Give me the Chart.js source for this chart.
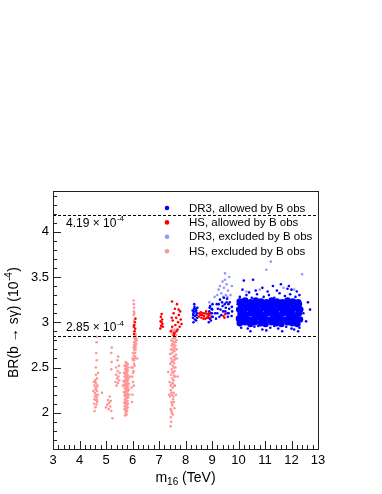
<!DOCTYPE html>
<html><head><meta charset="utf-8">
<script src="https://cdn.jsdelivr.net/npm/chart.js@4/dist/chart.umd.min.js"></script>
<style>html,body{margin:0;padding:0;background:#fff}canvas{display:block}</style>
</head><body>
<canvas id="c" width="382" height="494"></canvas>
<script>
const xTicks = [3,4,5,6,7,8,9,10,11,12,13];
const yTicks = [2,2.5,3,3.5,4];
const refLines = [4.19, 2.85];
const refLabels = ['4.19', '2.85'];
const legendLabels = ['DR3, allowed by B obs','HS, allowed by B obs','DR3, excluded by B obs','HS, excluded by B obs'];

const dr3Allowed = [
[8.28,3.05],[8.3,3.1],[8.32,3.15],[8.35,3.03],[8.38,3.12],[8.42,3.08],[8.45,3.16],[8.3,3.0],[8.4,3.02],[8.27,3.13],[8.33,3.2],[8.44,3.05],
[8.29,3.08],[8.31,3.12],[8.36,3.07],[8.39,3.15],[8.43,3.1],[8.34,3.17],[8.41,3.13],
[8.86,3.05],[8.9,3.12],[8.93,3.18],[8.96,3.02],[9.0,3.1],[9.02,3.2],[8.88,3.0],[8.98,3.15],[9.03,3.06],
[8.88,3.08],[8.92,3.04],[8.95,3.1],[8.99,3.06],[9.01,3.14],[8.91,3.16],
[9.12,3.1],[9.18,3.2],[9.22,3.15],[9.3,3.25],[9.35,3.08],[9.4,3.18],[9.45,3.27],[9.5,3.12],[9.55,3.22],[9.6,3.06],[9.65,3.15],[9.28,3.06],[9.38,3.22],[9.15,3.04],[9.58,3.1],[9.62,3.2],
[9.2,3.1],[9.25,3.2],[9.32,3.14],[9.42,3.12],[9.48,3.2],[9.52,3.16],[9.57,3.26],[9.63,3.1],[9.67,3.22],
[9.74,3.07],[9.76,3.12],[9.75,3.17],
[10.05,3.28],[10.3,3.3],[10.5,3.27],[10.7,3.31],[10.95,3.28],[11.15,3.3],[11.35,3.27],[11.55,3.32],[11.75,3.29],[11.95,3.31],[12.15,3.28],[12.3,3.3],[10.4,3.33],[11.45,3.35],[12.0,3.36],
[10.15,3.36],[10.65,3.35],[10.9,3.38],[11.3,3.4],[11.85,3.37],[12.2,3.34],[11.1,3.34],
[10.1,2.94],[10.35,2.93],[10.6,2.95],[10.9,2.92],[11.2,2.94],[11.5,2.93],[11.8,2.95],[12.1,2.92],[12.3,2.94],[10.75,2.96],[11.35,2.96],
[10.45,2.9],[11.05,2.91],[11.65,2.9],[12.0,2.93],[12.25,2.9],
[10.2,3.46],[10.55,3.47],[11.6,3.42],[11.9,3.4],[12.62,3.22],[12.7,3.14],[12.55,3.01],[12.45,3.1],[9.95,3.05],[9.97,3.2]
];
const dr3AllowedCore = [
[10.05,2.99],[10.25,3.0],[10.45,2.98],[10.62,3.0],[10.85,2.99],[11.02,2.98],[11.25,3.0],[11.43,2.99],[11.62,2.98],[11.85,3.0],[12.03,2.99],[12.22,2.98],
[10.02,3.04],[10.2,3.05],[10.4,3.03],[10.6,3.04],[10.8,3.05],[11.0,3.04],[11.2,3.03],[11.4,3.05],[11.6,3.04],[11.8,3.03],[12.0,3.05],[12.2,3.04],[12.32,3.03],
[10.08,3.09],[10.28,3.08],[10.48,3.1],[10.68,3.09],[10.88,3.08],[11.08,3.1],[11.28,3.09],[11.48,3.08],[11.68,3.1],[11.88,3.09],[12.08,3.08],[12.28,3.1],
[10.03,3.14],[10.22,3.13],[10.42,3.15],[10.62,3.14],[10.82,3.13],[11.02,3.15],[11.22,3.14],[11.42,3.13],[11.62,3.15],[11.82,3.14],[12.02,3.13],[12.22,3.15],[12.33,3.14],
[10.1,3.19],[10.3,3.18],[10.5,3.2],[10.7,3.19],[10.9,3.18],[11.1,3.2],[11.3,3.19],[11.5,3.18],[11.7,3.2],[11.9,3.19],[12.1,3.18],[12.28,3.2],
[10.05,3.23],[10.25,3.24],[10.45,3.22],[10.65,3.24],[10.85,3.23],[11.05,3.22],[11.25,3.24],[11.45,3.23],[11.65,3.22],[11.85,3.24],[12.05,3.23],[12.25,3.22]
];
const hsAllowed = [
[6.06,2.87],[6.08,2.9],[6.1,2.93],[6.07,2.97],[6.09,3.0],[6.11,3.04],[6.05,2.95],
[7.05,2.93],[7.08,2.96],[7.1,3.0],[7.12,3.03],[7.07,3.06],[7.13,2.98],[7.1,3.09],[7.06,3.01],[7.14,2.95],
[7.45,2.9],[7.5,2.95],[7.52,3.02],[7.55,3.1],[7.58,2.88],[7.6,3.15],[7.62,2.97],[7.65,3.05],[7.68,3.2],[7.7,2.92],[7.72,3.0],[7.75,3.08],[7.78,2.95],[7.8,3.12],[7.82,3.03],[7.85,2.98],[7.48,3.05],[7.56,2.86],[7.66,2.9],[7.74,3.14],[7.49,3.23],
[8.5,3.06],[8.55,3.08],[8.6,3.05],[8.65,3.1],[8.7,3.07],[8.75,3.04],[8.8,3.09],[8.85,3.06],[8.9,3.08],[8.95,3.05],[8.58,3.11],[8.68,3.04],[8.78,3.12],[8.88,3.1],[8.62,3.08],[8.72,3.1],[8.82,3.05],[8.52,3.1],
[9.43,3.07],[9.47,3.05],[9.5,3.09]
];
const dr3Excluded = [
[9.2,3.3],[9.25,3.36],[9.3,3.4],[9.35,3.32],[9.4,3.45],[9.45,3.38],[9.49,3.54],[9.49,3.47],[9.52,3.3],[9.55,3.42],[9.6,3.35],[9.65,3.5],[9.7,3.3],[9.75,3.4],[9.42,3.28],[9.58,3.28],
[11.22,3.67],[11.05,3.58],[12.4,3.53],[10.8,3.36],[11.7,3.38],[12.1,3.36],[8.9,3.22],[9.1,3.28],[10.3,3.34]
];
const hsExcluded = [
[4.52,2.24],[4.55,2.1],[4.56,2.3],[4.57,2.02],[4.58,2.18],[4.59,2.36],[4.6,2.06],[4.6,2.26],[4.61,2.14],[4.62,2.2],[4.62,2.42],[4.63,2.32],[4.64,2.09],[4.64,2.28],[4.65,2.17],[4.66,2.38],[4.66,2.24],[4.67,2.12],[4.68,2.3],[4.69,2.2],[4.62,2.5],[4.65,2.58],[4.63,2.66],[4.64,2.78],[4.64,2.84],[4.7,2.44],[4.54,2.34],[4.85,2.22],
[4.58,2.22],[4.62,2.28],[4.6,2.34],[4.66,2.14],[4.57,2.15],
[5.0,2.06],[5.05,2.09],[5.08,2.14],[5.1,2.04],[5.12,2.11],[5.14,2.18],[5.16,2.07],[5.18,2.13],[5.2,2.02],[5.24,1.94],[5.2,2.48],[5.21,2.56],[5.2,2.66],[5.22,2.72],
[5.36,2.34],[5.38,2.42],[5.4,2.3],[5.42,2.38],[5.44,2.46],[5.45,2.33],[5.47,2.4],[5.49,2.52],[5.5,2.36],[5.52,2.44],[5.43,2.58],[5.46,2.62],[5.38,2.5],
[5.72,1.97],[5.78,1.98],[5.74,2.01],[5.8,2.02],[5.7,2.04],[5.76,2.05],[5.82,2.06],[5.73,2.08],[5.79,2.09],[5.69,2.11],[5.75,2.12],[5.81,2.13],[5.72,2.15],[5.78,2.16],[5.84,2.17],[5.7,2.19],[5.76,2.2],[5.82,2.21],[5.68,2.23],[5.74,2.24],[5.8,2.25],[5.86,2.26],[5.71,2.27],[5.77,2.28],[5.83,2.29],[5.69,2.31],[5.75,2.32],[5.81,2.33],[5.66,2.35],[5.72,2.36],[5.78,2.37],[5.84,2.38],[5.7,2.4],[5.76,2.41],[5.82,2.42],[5.68,2.44],[5.74,2.45],[5.8,2.46],[5.72,2.48],[5.78,2.49],[5.84,2.5],[5.7,2.52],[5.76,2.53],[5.82,2.54],[5.74,2.56],[5.88,2.2],[5.64,2.3],[5.9,2.4],
[5.75,1.99],[5.71,2.07],[5.77,2.1],[5.83,2.1],[5.73,2.18],[5.79,2.19],[5.71,2.22],[5.77,2.23],[5.83,2.24],[5.73,2.3],[5.79,2.31],[5.85,2.32],[5.7,2.34],[5.76,2.35],[5.82,2.36],[5.74,2.39],[5.8,2.4],[5.72,2.43],[5.78,2.44],[5.76,2.47],[5.82,2.47],[5.74,2.51],[5.8,2.52],[5.78,2.55],[5.77,2.03],[5.73,2.13],[5.79,2.26],
[5.98,2.12],[6.0,2.2],[5.97,2.28],[6.02,2.34],[5.99,2.4],[6.04,2.46],[6.01,2.5],[6.06,2.54],[6.03,2.58],[6.08,2.6],[6.05,2.63],[6.1,2.66],[6.07,2.69],[6.12,2.7],[6.04,2.72],[6.09,2.74],[6.14,2.76],[6.06,2.78],[6.11,2.8],[6.08,2.82],[6.13,2.84],[6.1,2.85],[6.16,2.8],[6.02,2.66],[5.96,2.5],[6.0,2.6],[6.07,2.9],[6.05,2.97],[6.06,3.02],[6.04,3.08],[6.05,3.12],[6.06,3.16],[6.05,3.2],[6.04,3.24],[6.07,3.1],[6.18,2.6],
[6.05,2.3],[6.02,2.44],[6.08,2.52],[6.06,2.58],[6.1,2.62],[6.08,2.7],[6.12,2.73],[6.06,2.75],[6.1,2.78],[6.14,2.82],[6.06,2.84],[6.12,2.87],
[7.44,1.85],[7.46,1.9],[7.45,1.95],[7.48,2.0],[7.44,2.04],[7.5,2.08],[7.47,2.12],[7.53,2.15],[7.42,2.18],[7.49,2.2],[7.55,2.22],[7.45,2.25],[7.52,2.28],[7.58,2.3],[7.48,2.32],[7.4,2.34],[7.55,2.36],[7.5,2.38],[7.6,2.4],[7.45,2.42],[7.53,2.44],[7.58,2.46],[7.48,2.48],[7.62,2.5],[7.52,2.52],[7.43,2.54],[7.57,2.55],[7.5,2.57],[7.6,2.59],[7.46,2.6],[7.55,2.62],[7.64,2.64],[7.5,2.66],[7.58,2.68],[7.45,2.7],[7.54,2.72],[7.62,2.74],[7.5,2.76],[7.58,2.78],[7.66,2.8],[7.47,2.8],[7.54,2.82],[7.62,2.84],[7.52,2.86],[7.6,2.88],[7.56,2.9],[7.68,2.6],[7.7,2.4],[7.35,2.45],[7.38,2.2],[7.64,2.2],[7.58,2.05],[7.42,2.65],[7.66,2.7],[7.56,2.12],[7.52,1.98],[7.6,2.3],[7.48,2.92],
[7.5,2.1],[7.55,2.18],[7.46,2.22],[7.52,2.33],[7.57,2.41],[7.5,2.45],[7.56,2.5],[7.47,2.56],[7.54,2.58],[7.59,2.62],[7.52,2.69],[7.6,2.71],[7.48,2.74],[7.56,2.75],[7.52,2.79],[7.6,2.82],[7.55,2.85],[7.64,2.86],[7.5,2.88],[7.58,2.92],[7.62,2.78],[7.44,2.3],[7.47,2.02]
];

const BLUE = 'rgb(0,0,255)', RED = 'rgb(255,0,0)', LBLUE = 'rgb(150,150,255)', PINK = 'rgb(255,150,150)';
const FONT = '"Liberation Sans", Arial, Helvetica, sans-serif';
const toXY = a => a.map(p => ({x:p[0], y:p[1]}));

const deco = {
  id: 'deco',
  afterDatasetsDraw(chart) {
    const ctx = chart.ctx, a = chart.chartArea, xs = chart.scales.x, ys = chart.scales.y;
    ctx.save();
    ctx.strokeStyle = '#000'; ctx.lineWidth = 1; ctx.setLineDash([3,2]);
    refLines.forEach(v => {
      const py = Math.round(ys.getPixelForValue(v)) + 0.5;
      ctx.beginPath(); ctx.moveTo(a.left, py); ctx.lineTo(a.right, py); ctx.stroke();
    });
    ctx.setLineDash([]);
    ctx.strokeStyle = '#222';
    ctx.strokeRect(Math.round(a.left)+0.5, Math.round(a.top)+0.5, Math.round(a.right-a.left), Math.round(a.bottom-a.top));
    ctx.beginPath();
    for (let i = 0; i <= 50; i++) {
      const v = 3 + i*0.2; const px = Math.round(xs.getPixelForValue(v)) + 0.5;
      const len = (i % 5 === 0) ? 8 : 4;
      ctx.moveTo(px, a.bottom); ctx.lineTo(px, a.bottom - len);
    }
    for (let i = 16; i <= 44; i++) {
      const v = i/10; const py = Math.round(ys.getPixelForValue(v)) + 0.5;
      const len = (i % 5 === 0) ? 8 : 4;
      ctx.moveTo(a.left, py); ctx.lineTo(a.left + len, py);
    }
    ctx.stroke();
    ctx.fillStyle = '#000'; ctx.textBaseline = 'alphabetic'; ctx.textAlign = 'left';
    const supText = (base, sup, x, y, size) => {
      ctx.font = size + 'px ' + FONT; ctx.fillText(base, x, y);
      const w = ctx.measureText(base).width;
      ctx.font = Math.round(size*0.7) + 'px ' + FONT; ctx.fillText(sup, x + w + 0.5, y - size*0.42);
    };
    supText(refLabels[0] + ' \u00d7 10', '-4', 66, ys.getPixelForValue(refLines[0]) + 12, 12);
    supText(refLabels[1] + ' \u00d7 10', '-4', 66, ys.getPixelForValue(refLines[1]) - 5, 12);
    const cols = [BLUE, RED, LBLUE, PINK];
    legendLabels.forEach((t, i) => {
      const y = 208 + i*14.4;
      ctx.fillStyle = cols[i]; ctx.beginPath(); ctx.arc(167, y, 2.3, 0, Math.PI*2); ctx.fill();
      ctx.fillStyle = '#000'; ctx.font = '11.5px ' + FONT; ctx.textBaseline = 'middle';
      ctx.fillText(t, 189, y + 0.5);
    });
    ctx.textBaseline = 'alphabetic';
    ctx.font = '14px ' + FONT;
    const m = 'm', rest = ' (TeV)', sub = '16';
    const wm = ctx.measureText(m).width, wr = ctx.measureText(rest).width;
    ctx.font = '10px ' + FONT; const ws = ctx.measureText(sub).width;
    const tot = wm + ws + wr; let x0 = (a.left + a.right)/2 - tot/2; const yb = 482;
    ctx.font = '14px ' + FONT; ctx.fillText(m, x0, yb);
    ctx.font = '10px ' + FONT; ctx.fillText(sub, x0 + wm, yb + 3);
    ctx.font = '14px ' + FONT; ctx.fillText(rest, x0 + wm + ws, yb);
    ctx.save();
    ctx.translate(18, (a.top + a.bottom)/2 + 3);
    ctx.rotate(-Math.PI/2);
    const b1 = 'BR(b \u2192 s\u03b3) (10', s1 = '-4', b2 = ')';
    ctx.font = '14px ' + FONT; const w1 = ctx.measureText(b1).width, w3 = ctx.measureText(b2).width;
    ctx.font = '10px ' + FONT; const w2 = ctx.measureText(s1).width;
    let sx = -(w1 + w2 + w3)/2;
    ctx.font = '14px ' + FONT; ctx.fillText(b1, sx, 0);
    ctx.font = '10px ' + FONT; ctx.fillText(s1, sx + w1 + 0.5, -6);
    ctx.font = '14px ' + FONT; ctx.fillText(b2, sx + w1 + w2 + 1, 0);
    ctx.restore();
    ctx.restore();
  }
};

const ds = (label, data, color, r, order) => ({label, data: toXY(data), backgroundColor: color, borderWidth: 0, pointRadius: r, pointHoverRadius: r, pointBorderWidth: 0, order});

new Chart(document.getElementById('c'), {
  type: 'scatter',
  data: { datasets: [
    ds(legendLabels[1], hsAllowed, RED, 1.3, 0),
    ds(legendLabels[0], dr3Allowed, BLUE, 1.3, 1),
    ds(legendLabels[0] + ' core', dr3AllowedCore, BLUE, 3.3, 2),
    ds(legendLabels[2], dr3Excluded, LBLUE, 1.3, 3),
    ds(legendLabels[3], hsExcluded, PINK, 1.3, 4)
  ]},
  options: {
    responsive: false, animation: false, devicePixelRatio: 1,
    layout: { padding: { top: 191, right: 64, left: 0, bottom: 0 } },
    plugins: { legend: { display: false }, tooltip: { enabled: false } },
    scales: {
      x: {
        type: 'linear', min: 3, max: 13,
        afterBuildTicks: s => { s.ticks = xTicks.map(v => ({value: v})); },
        afterFit: s => { s.height = 45; },
        grid: { display: false, drawTicks: false }, border: { display: false },
        ticks: { autoSkip: false, maxRotation: 0, padding: 4, color: '#000', font: { family: FONT, size: 13 }, callback: v => String(v) }
      },
      y: {
        type: 'linear', min: 1.6, max: 4.45,
        afterBuildTicks: s => { s.ticks = yTicks.map(v => ({value: v})); },
        afterFit: s => { s.width = 53; },
        grid: { display: false, drawTicks: false }, border: { display: false },
        ticks: { padding: 4, color: '#000', font: { family: FONT, size: 13 }, callback: v => String(v) }
      }
    }
  },
  plugins: [deco]
});
</script>
</body></html>
